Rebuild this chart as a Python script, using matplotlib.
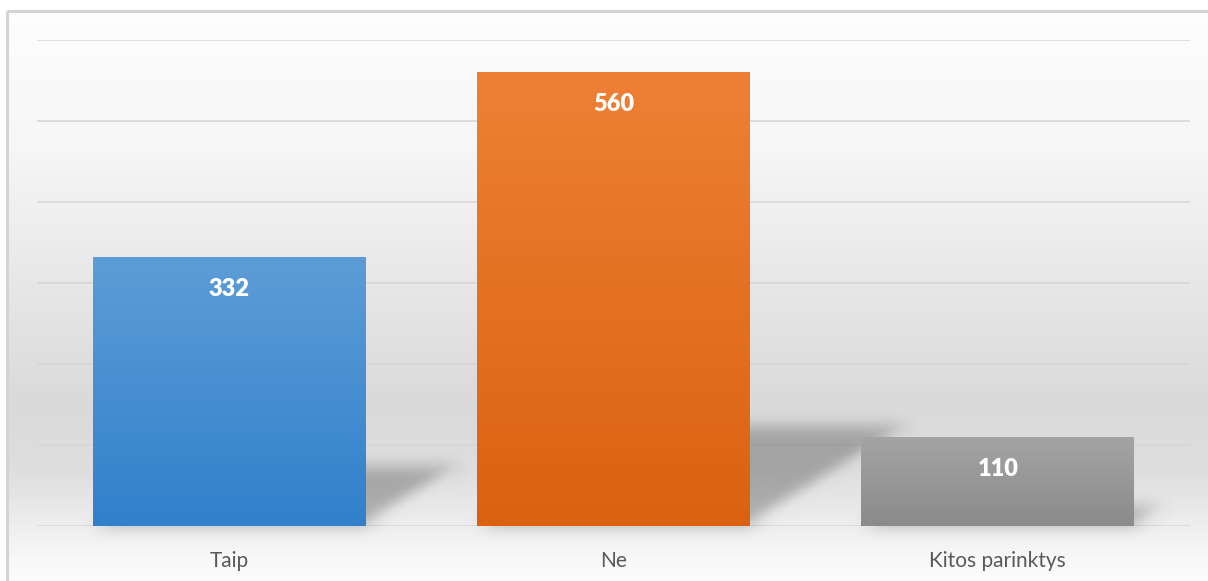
import numpy as np
import matplotlib
matplotlib.use("Agg")
from matplotlib import pyplot as plt
from matplotlib.patches import Polygon, Rectangle
from matplotlib.colors import to_rgb

categories = ["Taip", "Ne", "Kitos parinktys"]
values = [332, 560, 110]
top_colors = ["#5d9dd7", "#ee8035", "#a4a4a4"]
bottom_colors = ["#3180cb", "#da620f", "#8b8b8b"]

W, H = 1208, 581


def vgrad(top, bottom, n=256):
    t = np.linspace(0, 1, n)[:, None]
    a, b = np.array(to_rgb(top)), np.array(to_rgb(bottom))
    return (a * (1 - t) + b * t)[:, None, :].repeat(2, axis=1)


def blur_filter(img, dpi, r=7, passes=3):
    pad = r * passes + 2
    a = np.pad(img, ((pad, pad), (pad, pad), (0, 0)))
    for _ in range(passes):
        for axis in (0, 1):
            acc = np.zeros_like(a)
            for k in range(-r, r + 1):
                acc += np.roll(a, k, axis=axis)
            a = acc / (2 * r + 1)
    return a, -pad, -pad


fig = plt.figure(figsize=(W / 100, H / 100), dpi=100)
fig.patch.set_facecolor("white")

# background panel with soft vertical gradient
bg = fig.add_axes([0, 0, 1, 1], zorder=-10)
bg.set_xlim(0, W)
bg.set_ylim(H, 0)
bg.axis("off")
stops_y = [11, 150, 300, 400, 470, 526, 560, 581]
stops_v = [0.995, 0.965, 0.90, 0.855, 0.87, 0.935, 0.975, 0.99]
yy = np.arange(11, H)
shade = np.interp(yy, stops_y, stops_v)
img = np.repeat(shade[:, None, None], 3, axis=2)
bg.imshow(img, extent=(7, W, H, 11), aspect="auto", interpolation="bilinear")
bg.add_patch(Rectangle((7, 11), W, H, fill=False, ec="#d4d4d4", lw=2.2))

ax = fig.add_axes([37 / W, 55 / H, 1153 / W, 486 / H])
ax.patch.set_alpha(0)
x = np.arange(len(categories))
width = 0.71
bars = ax.bar(x, values, width=width, color="none", zorder=3)

for bar, v, c0, c1 in zip(bars, values, top_colors, bottom_colors):
    x0, w = bar.get_x(), bar.get_width()
    im = ax.imshow(vgrad(c0, c1), extent=(x0, x0 + w, 0, v),
                   aspect="auto", zorder=3, interpolation="bilinear")
    im.set_clip_path(bar)
    # cast shadow
    dy, dx = 0.22 * v, 0.00075 * v
    sh = Polygon([(x0, 0), (x0 + w, 0), (x0 + w + dx, dy), (x0 + dx, dy)],
                 closed=True, fc=(0, 0, 0, 0.26), ec="none", zorder=2)
    sh.set_agg_filter(blur_filter)
    ax.add_patch(sh)
    ax.annotate(str(v), (x0 + w / 2, v), xytext=(0, -23),
                textcoords="offset points", ha="center", va="center",
                color="white", fontsize=17, fontweight="heavy",
                family="Lato", zorder=5)

ax.set_xlim(-0.5, 2.5)
ax.set_ylim(0, 600)
ax.set_yticks(np.arange(0, 601, 100))
ax.set_yticklabels([])
ax.grid(axis="y", color="#d6d6d6", lw=1.1, zorder=1)
ax.set_axisbelow(True)
ax.set_xticks(x)
ax.set_xticklabels(categories, fontsize=15, color="#595959", family="Lato")
ax.tick_params(length=0)
ax.tick_params(axis="x", pad=18)
for s in ax.spines.values():
    s.set_visible(False)

fig.savefig("out.png", dpi=100)
